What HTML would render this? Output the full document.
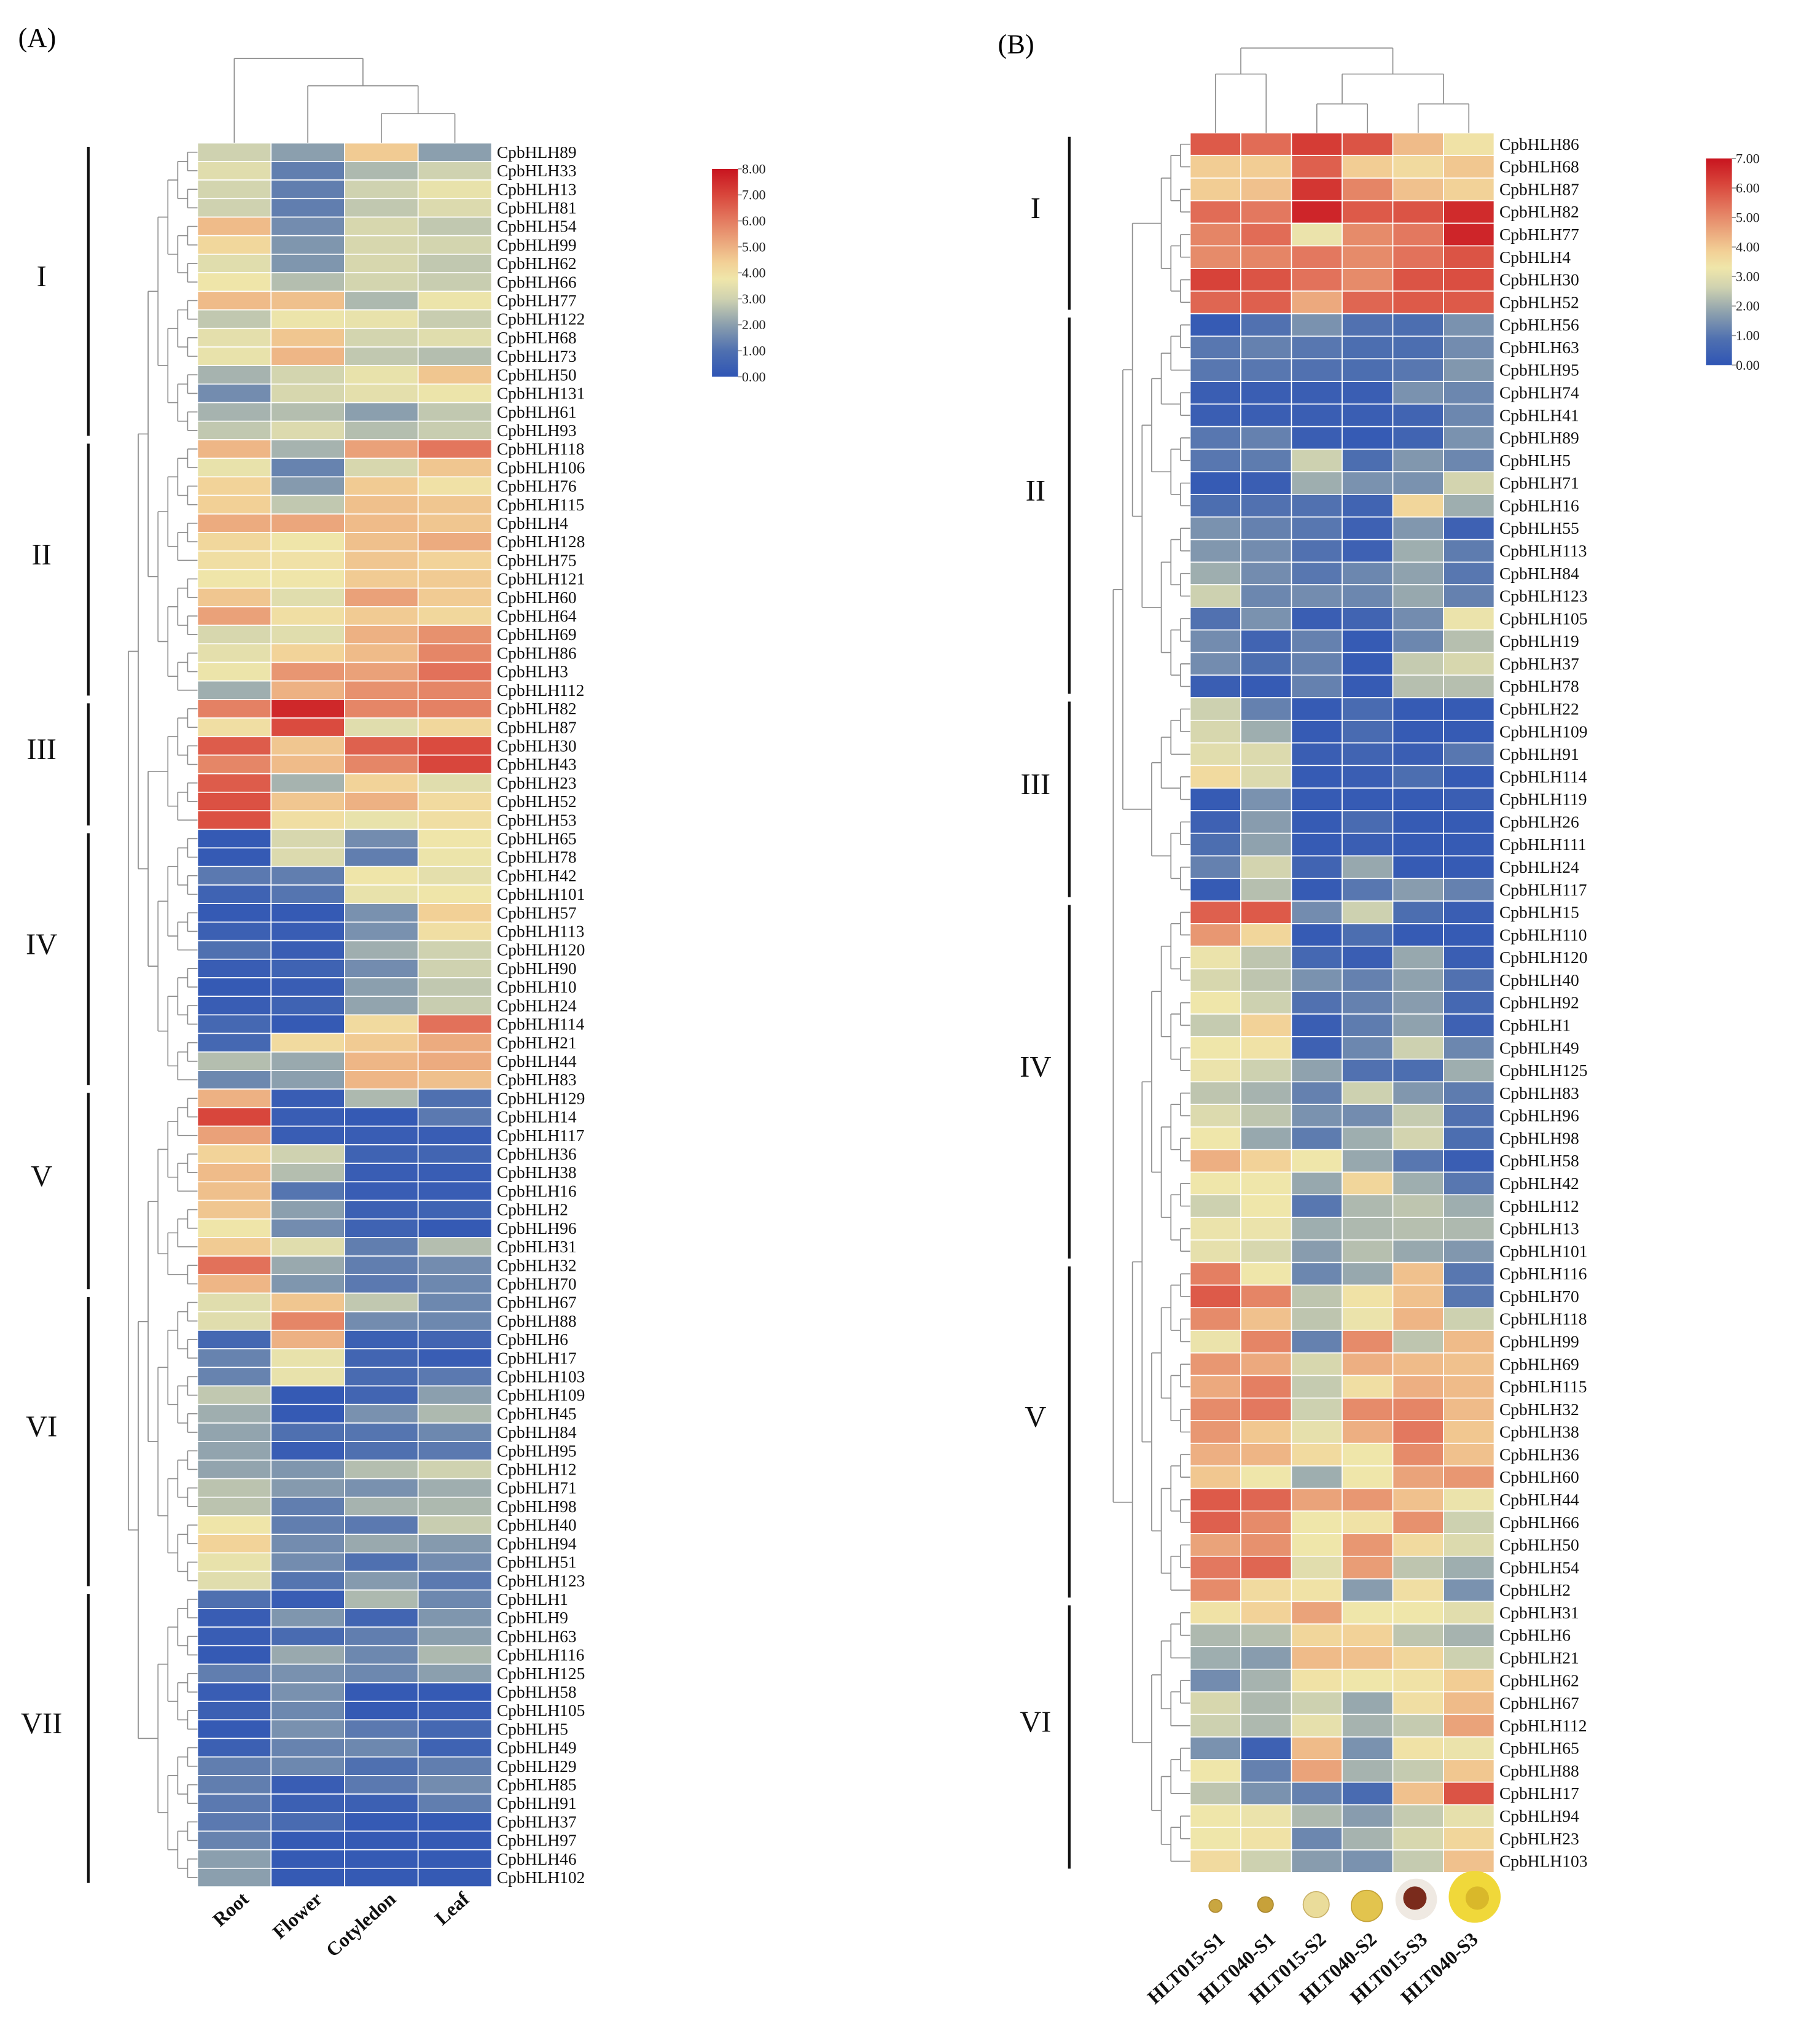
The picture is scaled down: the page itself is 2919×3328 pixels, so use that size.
<!DOCTYPE html>
<html><head><meta charset="utf-8"><title>CpbHLH expression heatmaps</title>
<style>
html,body{margin:0;padding:0;background:#fff;}
svg{display:block;}
text{font-family:"Liberation Serif",serif;}
</style></head>
<body>
<svg id="fig" xmlns="http://www.w3.org/2000/svg" width="2919" height="3328" viewBox="0 0 1380 1573.3" preserveAspectRatio="none">
  <rect x="0" y="0" width="1380" height="1573.3" fill="#fff"/>
  <text x="14" y="36" font-size="21">(A)</text>
  <text x="768" y="41" font-size="21">(B)</text>
  <g id="gA"></g>
  <g id="gB"></g>
  <g>
    <circle cx="935.5" cy="1467" r="5" fill="#c9a640" stroke="#b08a30" stroke-width="0.8"/>
    <circle cx="974" cy="1466" r="6" fill="#c7a13a" stroke="#a8862c" stroke-width="0.8"/>
    <circle cx="1013" cy="1466" r="10" fill="#eadc9a" stroke="#c9b26a" stroke-width="0.8"/>
    <circle cx="1052" cy="1467" r="12" fill="#e2c44e" stroke="#c4a237" stroke-width="0.8"/>
    <circle cx="1090" cy="1462" r="16" fill="#efe9e2"/>
    <circle cx="1089" cy="1461" r="9" fill="#7a2b1c"/>
    <circle cx="1135" cy="1460" r="20" fill="#f0d83a"/>
    <circle cx="1137" cy="1461" r="9" fill="#d9b82a"/>
  </g>
</svg>
<script>
// ---------- Panel A data ----------
const genesA = [89,33,13,81,54,99,62,66,77,122,68,73,50,131,61,93,
118,106,76,115,4,128,75,121,60,64,69,86,3,112,
82,87,30,43,23,52,53,
65,78,42,101,57,113,120,90,10,24,114,21,44,83,
129,14,117,36,38,16,2,96,31,32,70,
67,88,6,17,103,109,45,84,95,12,71,98,40,94,51,123,
1,9,63,116,125,58,105,5,49,29,85,91,37,97,46,102];
const tissuesA = ["Root","Flower","Cotyledon","Leaf"];
const rootVals = [3,3.4,3.1,3,4.8,4.2,3.4,3.8,4.8,2.8,3.5,3.6,2.4,1.6,2.4,2.8,
4.9,3.6,4.3,4.4,5.1,4.2,4.0,3.8,4.6,5.3,3.2,3.5,3.7,2.3,
5.9,4.0,6.6,5.8,6.6,6.8,6.8,
0.2,0.2,1.2,0.5,0.2,0.4,1.0,0.3,0.2,0.3,0.7,0.7,2.6,1.5,
5.0,7.0,5.3,4.3,4.8,4.7,4.6,3.8,4.5,6.2,4.9,
3.4,3.4,0.7,1.4,1.4,2.8,2.3,2.1,2.1,2.1,2.7,2.7,3.8,4.3,3.6,3.4,
1.0,0.3,0.3,0.2,1.3,0.3,0.4,0.2,0.4,1.3,1.3,1.2,1.2,1.4,2.0,2.0];
const flowerVals = [2,1.3,1.3,1.3,1.6,1.8,1.8,2.6,4.7,3.7,4.6,4.9,3.1,3.2,2.6,3.3,
2.4,1.4,1.9,2.8,5.2,3.8,3.9,3.8,3.4,4.0,3.4,4.3,5.5,5.0,
7.6,6.9,4.6,4.8,2.4,4.6,4.0,
3.2,3.3,1.3,1.1,0.2,0.3,0.3,0.5,0.3,0.5,0.2,4.1,2.2,2.0,
0.3,0.3,0.3,3.0,2.6,1.1,2.0,1.6,3.4,2.2,1.8,
4.6,5.8,5.0,3.6,3.6,0.2,0.2,1.0,0.3,1.8,1.9,1.3,1.3,1.6,1.6,1.1,
0.3,1.8,0.8,2.2,1.7,1.7,1.5,1.7,1.4,1.5,0.3,0.4,0.8,0.2,0.2,0.2];
const cotyledonVals = [4.5,2.5,3,2.8,3.2,3.2,3.2,3.1,2.5,3.6,3.1,2.8,3.6,3.5,2.0,2.6,
5.3,3.2,4.5,4.7,4.8,4.7,4.6,4.5,5.3,4.5,5.0,4.8,5.3,5.6,
5.8,3.4,6.5,5.8,4.3,5.0,3.6,
1.6,1.3,3.8,3.6,1.7,1.7,2.3,1.6,2.0,2.1,4.1,4.5,4.9,4.9,
2.5,0.2,0.3,0.5,0.3,0.3,0.4,0.5,1.3,1.3,1.2,
2.8,1.6,0.4,0.6,0.8,0.6,1.7,1.1,1.0,2.6,1.7,2.4,1.2,2.2,1.0,1.9,
2.5,0.6,1.3,1.5,1.5,0.2,0.2,1.2,1.5,1.0,1.2,0.4,0.2,0.2,0.2,0.2];
const leafVals = [2,3,3.6,3.3,2.8,3.1,2.8,2.9,3.7,2.9,3.4,2.6,4.6,3.7,2.8,2.9,
6.1,4.6,3.9,4.6,4.6,5.1,4.3,4.5,4.5,4.2,5.6,5.8,6.2,5.8,
5.9,4.2,6.9,7.0,3.4,4.1,4.0,
3.8,3.7,3.5,3.8,4.4,4.0,3.0,3.0,2.8,2.9,6.2,5.1,5.1,4.7,
1.0,1.2,0.3,0.6,0.3,0.3,0.5,0.2,2.6,1.6,1.5,
1.5,1.5,0.6,0.3,1.2,2.0,2.5,1.5,1.2,3.0,2.3,2.5,2.9,1.9,1.6,1.2,
1.5,1.8,2.0,2.5,2.0,0.2,0.3,0.7,0.5,1.3,1.6,1.3,0.2,0.2,0.2,0.2];
const groupsA = [["I",0,15],["II",16,29],["III",30,36],["IV",37,50],["V",51,61],["VI",62,77],["VII",78,93]];
const ticksA = ["0.00","1.00","2.00","3.00","4.00","5.00","6.00","7.00","8.00"];

// ---------- Panel B data ----------
const genesB = [86,68,87,82,77,4,30,52,
56,63,95,74,41,89,5,71,16,55,113,84,123,105,19,37,78,
22,109,91,114,119,26,111,24,117,
15,110,120,40,92,1,49,125,83,96,98,58,42,12,13,101,
116,70,118,99,69,115,32,38,36,60,44,66,50,54,2,
31,6,21,62,67,112,65,88,17,94,23,103];
const samplesB = ["HLT015-S1","HLT040-S1","HLT015-S2","HLT040-S2","HLT015-S3","HLT040-S3"];
const s1015 = [5.8,3.9,3.9,5.5,5.1,5.0,6.2,5.6,
0.2,1.0,1.0,0.3,0.3,1.0,1.0,0.2,0.8,1.5,1.6,2.0,2.6,0.9,1.4,1.4,0.3,
2.6,2.8,3.0,3.6,0.2,0.4,0.8,1.2,0.2,
5.7,4.8,3.2,2.8,3.3,2.5,3.3,3.2,2.4,2.9,3.3,4.4,3.3,2.6,3.2,3.1,
5.2,5.8,5.0,3.2,4.8,4.5,5.0,4.8,4.4,4.0,5.8,5.7,4.6,5.3,5.0,
3.4,2.2,2.0,1.4,2.8,2.6,1.5,3.3,2.4,3.3,3.3,3.6];
const s1040 = [5.5,3.9,4.1,5.3,5.5,5.1,5.9,5.7,
0.9,1.2,1.0,0.3,0.3,1.2,1.1,0.3,0.9,1.2,1.4,1.4,1.3,1.5,0.5,0.8,0.2,
1.2,2.0,2.9,2.9,1.5,1.7,1.8,2.7,2.3,
5.8,3.7,2.4,2.4,2.6,3.8,3.4,2.6,2.1,2.4,1.9,3.8,3.3,3.3,3.2,2.8,
3.3,5.1,4.1,5.1,4.5,5.2,5.3,4.0,4.3,3.3,5.6,5.0,4.9,5.6,3.6,
3.8,2.3,1.7,2.1,2.2,2.2,0.4,1.2,1.5,3.2,3.4,2.6];
const s2015 = [6.3,5.7,6.4,6.7,3.2,5.3,5.4,4.5,
1.5,1.0,0.9,0.3,0.3,0.3,2.6,2.0,0.9,1.0,0.9,1.0,1.4,0.3,1.2,1.2,1.2,
0.2,0.2,0.3,0.2,0.2,0.2,0.2,0.5,0.2,
1.4,0.2,0.6,1.5,0.9,0.3,0.4,1.8,1.2,1.5,1.1,3.3,1.9,1.0,2.0,1.7,
1.3,2.4,2.4,1.2,2.8,2.5,2.6,3.1,3.6,2.0,4.6,3.3,3.3,3.0,3.4,
4.6,3.7,4.2,3.4,2.6,3.1,4.2,4.6,1.2,2.2,1.3,1.7];
const s2040 = [5.9,3.9,5.1,5.8,5.0,5.0,5.0,5.6,
0.9,0.8,0.8,0.3,0.3,0.2,0.8,1.5,0.5,0.4,0.4,1.3,1.3,0.5,0.2,0.2,0.2,
0.7,0.7,0.5,0.3,0.2,0.7,0.3,1.9,1.0,
2.6,0.8,0.3,1.2,1.2,1.1,1.3,0.9,2.6,1.4,2.0,1.9,3.7,2.2,2.2,2.3,
1.9,3.4,3.2,5.0,4.4,3.5,5.0,4.4,3.3,3.3,4.8,3.4,4.8,4.7,1.7,
3.3,3.8,4.1,3.3,1.9,2.1,1.5,2.1,0.7,1.7,2.1,1.5];
const s3015 = [4.2,3.6,4.1,5.9,5.3,5.4,5.9,5.8,
0.8,0.8,1.0,1.5,0.5,0.5,1.6,1.5,3.7,1.6,2.0,1.8,1.9,1.4,1.3,2.5,2.3,
0.2,0.2,0.3,0.8,0.2,0.2,0.2,0.2,1.7,
0.8,0.2,1.9,1.8,1.7,1.8,2.6,0.8,1.6,2.5,2.7,1.0,2.0,2.4,2.3,1.9,
4.1,4.1,4.3,2.4,4.2,4.4,5.1,5.3,5.0,4.6,4.1,4.9,3.6,2.4,3.5,
3.3,2.4,3.7,3.4,3.5,2.5,3.4,2.5,4.1,2.5,2.8,2.5];
const s3040 = [3.4,4.0,3.8,6.6,6.7,5.9,6.0,5.8,
1.5,1.4,1.6,1.3,1.3,1.5,1.3,2.7,2.0,0.4,1.1,1.0,1.2,3.2,2.3,2.8,2.3,
0.2,0.2,1.0,0.2,0.3,0.2,0.2,0.2,1.2,
0.3,0.2,0.3,0.9,0.6,0.4,1.3,2.0,1.1,0.9,0.8,0.3,1.0,2.0,2.2,1.6,
1.0,1.0,2.6,4.2,4.1,4.2,4.2,4.0,4.1,4.8,3.2,2.6,2.9,2.0,1.5,
3.0,2.1,2.6,3.9,4.2,4.6,3.2,4.0,5.9,3.1,3.7,4.1];
const groupsB = [["I",0,7],["II",8,24],["III",25,33],["IV",34,49],["V",50,64],["VI",65,76]];
const ticksB = ["0.00","1.00","2.00","3.00","4.00","5.00","6.00","7.00"];

// ---------- colour scale ----------
const stops = [[0,[47,85,181]],[0.125,[79,112,176]],[0.25,[139,159,174]],[0.375,[207,210,176]],
[0.47,[239,230,170]],[0.55,[242,208,150]],[0.65,[235,166,124]],[0.77,[226,115,91]],[0.88,[216,68,58]],[1,[200,20,31]]];
function colorAt(t){
  t=Math.max(0,Math.min(1,t));
  for(let i=1;i<stops.length;i++){
    if(t<=stops[i][0]){
      const a=stops[i-1],b=stops[i],f=(t-a[0])/(b[0]-a[0]);
      const c=a[1].map((v,k)=>Math.round(v+(b[1][k]-v)*f));
      return "rgb("+c.join(",")+")";
    }
  }
  return "rgb(200,20,31)";
}
const NS="http://www.w3.org/2000/svg";
function mk(tag,attrs,parent){
  const e=document.createElementNS(NS,tag);
  for(const k in attrs) e.setAttribute(k,attrs[k]);
  parent.appendChild(e);
  return e;
}

function drawPanel(cfg){
  const g=document.getElementById(cfg.gid);
  const n=cfg.genes.length, nc=cfg.cols.length;
  const xS=c=>cfg.x0+c*cfg.cw;
  const yS=i=>cfg.y0+i*cfg.rh;
  for(let c=0;c<nc;c++){
    for(let i=0;i<n;i++){
      const v=cfg.cols[c][i];
      const r=mk("rect",{x:xS(c),y:yS(i),width:cfg.cw,height:cfg.rh,fill:colorAt(v/cfg.vmax),stroke:"#fff","stroke-width":0.8},g);
      
      
    }
  }
  for(let i=0;i<n;i++){
    const t=mk("text",{x:xS(nc)+4,y:yS(i)+cfg.rh/2+4.3,"font-size":13,fill:"#111"},g);
    t.textContent="CpbHLH"+cfg.genes[i];
    
    
  }
  const lc="#8f8f8f", lw=0.8;
  function line(x1,y1,x2,y2){
    const l=mk("line",{x1:x1,y1:y1,x2:x2,y2:y2,stroke:lc,"stroke-width":lw},g);
    
    
  }
  function join(a,b){
    const x=Math.min(a.x,b.x)-cfg.step;
    line(x,a.y,a.x,a.y); line(x,b.y,b.x,b.y); line(x,a.y,x,b.y);
    return {x:x,y:(a.y+b.y)/2};
  }
  function build(nodes){
    if(nodes.length===1) return nodes[0];
    const m=Math.ceil(nodes.length/2);
    return join(build(nodes.slice(0,m)),build(nodes.slice(m)));
  }
  const clusterNodes=cfg.groups.map(gr=>{
    const leaves=[];
    for(let i=gr[1];i<=gr[2];i++) leaves.push({x:cfg.x0,y:yS(i)+cfg.rh/2});
    return build(leaves);
  });
  build(clusterNodes);
  cfg.groups.forEach(gr=>{
    const y1=yS(gr[1])+3, y2=yS(gr[2]+1)-3;
    const b=mk("line",{x1:cfg.barX,y1:y1,x2:cfg.barX,y2:y2,stroke:"#111","stroke-width":2},g);
    
    
    const t=mk("text",{x:cfg.numX,y:(y1+y2)/2-4,"font-size":23,"text-anchor":"middle",fill:"#111"},g);
    t.textContent=gr[0];
    
    
  });
  const cx=c=>xS(c)+cfg.cw/2;
  cfg.colTree.forEach(s=>{
    line(s[0],s[2],s[1],s[2]);
    line(s[0],s[2],s[0],s[3]);
    line(s[1],s[2],s[1],s[4]);
  });
  for(let c=0;c<nc;c++){
    const px=cx(c)+cfg.labDx, py=cfg.labY;
    const t=mk("text",{x:px,y:py,"font-size":15,"font-weight":"bold","text-anchor":"end",fill:"#111",transform:"rotate(-42 "+px+" "+py+")"},g);
    t.textContent=cfg.colNames[c];
    
    
  }
  const defs=mk("defs",{},g);
  const grad=mk("linearGradient",{id:cfg.gid+"grad",x1:0,y1:1,x2:0,y2:0},defs);
  stops.forEach(s=>mk("stop",{offset:s[0],"stop-color":"rgb("+s[1].join(",")+")"},grad));
  const lg=mk("rect",{x:cfg.legX,y:cfg.legY,width:20,height:cfg.legH,fill:"url(#"+cfg.gid+"grad)"},g);
  
  
  const nt=cfg.ticks.length;
  cfg.ticks.forEach((tk,k)=>{
    const y=cfg.legY+cfg.legH-k*cfg.legH/(nt-1);
    line(cfg.legX+20,y,cfg.legX+23,y);
    const t=mk("text",{x:cfg.legX+23,y:y+3.5,"font-size":10.5,fill:"#222"},g);
    t.textContent=tk;
    
    
  });
}

(function(){
  const x0=152,cw=56.6,c=i=>x0+i*cw+cw/2;
  const top=110;
  const cl=(c(2)+c(3))/2, fr=(c(1)+cl)/2;
  drawPanel({gid:"gA",genes:genesA,cols:[rootVals,flowerVals,cotyledonVals,leafVals],colNames:tissuesA,
    vmax:8,x0:x0,cw:cw,y0:top,rh:14.28,step:7.6,groups:groupsA,barX:68,numX:32,
    colTree:[[c(2),c(3),87.5,top,top],[c(1),cl,66,top,87.5],[c(0),fr,45,top,66]],
    labDx:12,labY:1463,legX:548,legY:130,legH:160,ticks:ticksA});
})();
(function(){
  const x0=916,cw=39,c=i=>x0+i*cw+cw/2;
  const top=102.3;
  const a=(c(0)+c(1))/2, b=(c(2)+c(3))/2, d=(c(4)+c(5))/2, e=(b+d)/2;
  drawPanel({gid:"gB",genes:genesB,cols:[s1015,s1040,s2015,s2040,s3015,s3040],colNames:samplesB,
    vmax:7,x0:x0,cw:cw,y0:top,rh:17.39,step:7.4,groups:groupsB,barX:823,numX:797,
    colTree:[[c(0),c(1),57,top,top],[c(2),c(3),80,top,top],[c(4),c(5),80,top,top],[b,d,57,80,80],[a,e,37,57,57]],
    labDx:8,labY:1494,legX:1313,legY:122,legH:159,ticks:ticksB});
})();
</script>
</body></html>
